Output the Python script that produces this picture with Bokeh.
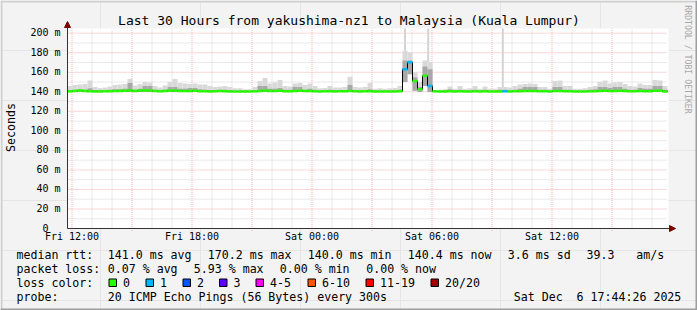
import numpy as np
from bokeh.plotting import figure
from bokeh.models import Range1d, Arrow, NormalHead
from bokeh.core.properties import value
from bokeh.embed import file_html
from bokeh.resources import INLINE

# ---------------- data (hours since Fri 12:00, milliseconds) ----------------
T_START = -0.225                 # left edge of the 30-hour window
BIN_H = 0.25                     # 15-minute bins

median_ms = [
    140.6, 140.8, 141.2, 140.8, 140.6, 140.4, 140.4, 140.5, 140.6, 140.8,
    140.9, 141.0, 141.4, 140.8, 141.2, 141.3, 141.2, 140.7, 140.6, 140.8,
    141.0, 141.2, 140.9, 140.8, 140.7, 141.0, 140.6, 140.5, 140.4, 140.6,
    140.7, 140.5, 140.4, 140.3, 140.3, 140.2, 140.3, 140.5, 140.8, 141.2,
    140.8, 140.9, 141.0, 140.6, 140.6, 140.8, 141.0, 140.7, 140.8, 140.5,
    140.4, 140.5, 140.6, 140.4, 140.5, 140.5, 140.9, 140.5, 140.4, 140.5,
    140.6, 140.3, 140.4, 140.3, 140.4, 140.4, 140.6, 163.0, 170.2, 151.0,
    142.5, 156.5, 146.0, 140.5, 140.3, 140.4, 140.5, 140.4, 140.6, 140.4,
    140.4, 140.5, 140.4, 140.5, 140.3, 140.3, 140.4, 140.5, 140.4, 140.5,
    140.6, 140.7, 140.9, 140.8, 140.5, 140.5, 140.3, 140.7, 140.9, 140.6,
    140.5, 140.3, 140.3, 140.4, 140.5, 140.6, 140.8, 141.0, 140.8, 140.9,
    141.0, 140.7, 140.5, 140.5, 140.8, 140.6, 140.6, 141.0, 141.1, 140.4,
]

loss_count = [0] * 120
for _i in (67, 68, 72, 87):
    loss_count[_i] = 1

smoke_max = [
    146.0, 147.0, 147.5, 148.0, 151.5, 145.0, 144.0, 144.5, 145.5, 147.0,
    147.5, 148.0, 153.0, 146.5, 148.0, 150.0, 149.5, 146.0, 144.5, 146.5,
    150.0, 153.0, 149.0, 148.5, 148.0, 148.5, 147.5, 147.5, 146.0, 145.0,
    145.5, 146.0, 145.0, 143.5, 143.5, 142.5, 142.5, 145.0, 151.0, 154.0,
    148.5, 149.5, 152.0, 146.0, 145.5, 148.5, 149.0, 147.0, 148.5, 146.0,
    143.5, 144.0, 146.0, 144.5, 144.5, 145.0, 155.5, 145.0, 144.5, 145.0,
    149.0, 143.0, 143.5, 143.0, 143.5, 144.0, 146.0, 182.0, 180.0, 160.0,
    150.0, 172.0, 170.0, 141.5, 142.0, 142.5, 145.5, 143.0, 146.0, 143.0,
    143.5, 146.0, 143.0, 145.5, 143.0, 143.0, 145.0, 145.0, 144.5, 146.0,
    147.5, 148.0, 148.5, 148.0, 145.0, 145.0, 143.0, 151.0, 151.5, 146.0,
    146.0, 143.0, 143.0, 143.5, 145.0, 146.0, 150.0, 151.5, 148.5, 149.5,
    150.0, 148.0, 146.0, 145.5, 148.5, 147.0, 147.0, 152.0, 151.5, 146.0,
]

smoke_mid = [
    141.5, 142.0, 142.5, 142.0, 143.5, 141.5, 141.5, 141.5, 142.0, 142.5,
    142.5, 143.0, 149.0, 142.0, 143.0, 146.0, 146.0, 142.0, 141.5, 142.0,
    145.0, 145.0, 143.0, 143.0, 144.0, 144.0, 142.5, 142.0, 141.5, 141.5,
    142.0, 142.0, 141.5, 141.0, 141.0, 141.0, 141.0, 141.5, 146.0, 146.0,
    143.0, 143.0, 144.0, 142.0, 142.0, 145.0, 145.0, 142.0, 143.0, 142.0,
    141.0, 141.0, 142.0, 141.5, 141.5, 141.5, 147.0, 141.5, 141.0, 141.5,
    142.5, 141.0, 141.0, 141.0, 141.0, 141.0, 142.0, 172.0, 172.0, 155.0,
    145.0, 166.0, 163.0, 141.0, 141.0, 141.0, 142.5, 141.0, 142.0, 141.0,
    141.0, 142.0, 141.0, 142.0, 141.0, 141.0, 142.0, 142.0, 141.5, 142.0,
    143.0, 145.0, 145.0, 145.0, 142.0, 142.0, 141.0, 145.0, 145.0, 142.0,
    142.0, 141.0, 141.0, 141.0, 142.0, 142.5, 145.0, 145.0, 144.0, 145.0,
    145.0, 143.0, 142.0, 142.0, 144.0, 143.0, 143.0, 146.0, 146.0, 142.0,
]

smoke_min = [139.8] * 120
for _i, _v in ((67, 150.0), (68, 158.0), (69, 141.0), (71, 146.0)):
    smoke_min[_i] = _v

outlier_t = [16.65, 17.81, 21.54]      # single pings far above the scale
outlier_ms = [230.0, 230.0, 230.0]

loss_labels = ["0", "1", "2", "3", "4-5", "6-10", "11-19", "20/20"]
loss_colors = ["#26ff00", "#00b8ff", "#0059ff", "#5e00ff", "#ff00ff",
               "#ff5500", "#ff0000", "#a10000"]

x_tick_hours = [0, 6, 12, 18, 24]
x_tick_labels = ["Fri 12:00", "Fri 18:00", "Sat 00:00", "Sat 06:00", "Sat 12:00"]
y_tick_vals = list(range(0, 201, 20))

title = "Last 30 Hours from yakushima-nz1 to Malaysia (Kuala Lumpur)"

# ---------------- layout constants (canvas pixels) ----------------
W, H = 697, 310
FL, FR, FT, FB = 67, 667, 28, 228
Y_MAX = 204.8
PXH = (FR - FL) / 30.0
PXM = (FB - FT) / Y_MAX
MONO = value("DejaVu Sans Mono")
DY = -4.0          # baseline correction for the SVG text renderer
NB = "\u00a0"      # keeps double spaces visible in SVG text

p = figure(width=W, height=H, x_range=Range1d(0, W), y_range=Range1d(H, 0),
           x_axis_location=None, y_axis_location=None,
           toolbar_location=None, output_backend="svg", min_border=0,
           background_fill_color="#f3f3f3", border_fill_color="#f3f3f3",
           outline_line_color=None)
p.extra_x_ranges = {"t": Range1d(T_START - FL / PXH, T_START + (W - FL) / PXH)}
p.extra_y_ranges = {"ms": Range1d((FB - H) / PXM, FB / PXM)}
D = dict(x_range_name="t", y_range_name="ms")

# plot canvas
p.quad(left=[FL], right=[FR + 1], top=[FT], bottom=[FB], fill_color="white", line_color=None)

# grid (minor grey, major red, dotted)
hours = list(range(0, 30))
xmin = [h for h in hours if h % 3]
xmaj = [h for h in hours if h % 3 == 0]
ymin = [v for v in range(10, 201, 10) if v % 20]
ymaj = list(range(20, 201, 20))
GRID_MINOR, GRID_MAJOR = "#d4d4d4", "#f0b0b0"
p.segment(x0=xmin, x1=xmin, y0=[0] * len(xmin), y1=[Y_MAX] * len(xmin),
          line_color=GRID_MINOR, line_dash="1 1", line_width=1, **D)
p.segment(x0=[T_START] * len(ymin), x1=[T_START + 30] * len(ymin), y0=ymin, y1=ymin,
          line_color=GRID_MINOR, line_dash="1 1", line_width=1, **D)
p.segment(x0=xmaj, x1=xmaj, y0=[-2.5] * len(xmaj), y1=[Y_MAX] * len(xmaj),
          line_color=GRID_MAJOR, line_dash="1 1", line_width=1, **D)
p.segment(x0=[T_START] * len(ymaj), x1=[T_START + 30] * len(ymaj), y0=ymaj, y1=ymaj,
          line_color=GRID_MAJOR, line_dash="1 1", line_width=1, **D)

# smoke
n = len(median_ms)
t0 = np.array([T_START + BIN_H * i for i in range(n)])
t1 = t0 + BIN_H
p.quad(left=t0, right=t1, bottom=smoke_min, top=smoke_max,
       fill_color="#d9d9d9", line_color=None, **D)
p.quad(left=t0, right=t1, bottom=smoke_min, top=smoke_mid,
       fill_color="#a8a8a8", line_color=None, **D)
out_bins = [int((t - T_START) / BIN_H) for t in outlier_t]
p.vbar(x=outlier_t, width=0.1, bottom=[smoke_max[b] for b in out_bins],
       top=[min(v, Y_MAX) for v in outlier_ms], fill_color="#d4d4d4", line_color=None, **D)

# median: black step line + loss-coloured segments
p.step(x=list(t0) + [t1[-1]], y=median_ms + [median_ms[-1]], mode="after",
       line_color="black", line_width=1, **D)
seg_colors = [loss_colors[min(c, 1)] for c in loss_count]
p.segment(x0=t0, y0=median_ms, x1=t1, y1=median_ms, line_color=seg_colors,
          line_width=2.5, **D)

# axes with arrows
for xs, ys, xe, ye in ((FL, FB, FL, 21), (FL, FB, 675, FB)):
    p.add_layout(Arrow(end=NormalHead(size=6, fill_color="#7f0000", line_color="#7f0000"),
                       x_start=xs, y_start=ys, x_end=xe, y_end=ye,
                       line_color="#333333", line_width=1))


def txt(texts, xs, ys, size="11.6px", align="left", baseline="alphabetic",
        color="black", angle=0.0, xr="default", yr="default", y_offset=0.0):
    if baseline == "alphabetic":
        y_offset += DY
    p.text(x=xs, y=ys, text=texts, text_font=MONO, text_font_size=value(size),
           text_align=align, text_baseline=baseline, text_color=color, angle=angle,
           x_range_name=xr, y_range_name=yr, y_offset=y_offset)


# title
txt([title], [348.5], [24.3], size="13px", align="center")

# y tick labels ("0" keeps the width of the unit suffix, as in rrdtool)
txt(["0" + NB + NB if v == 0 else f"{v} m" for v in y_tick_vals], [60] * len(y_tick_vals),
    y_tick_vals, size="10px", align="right", yr="ms", y_offset=3.5)

# x tick labels
txt(x_tick_labels, x_tick_hours, [240] * len(x_tick_hours), size="10px", align="center", xr="t")

# y axis title and watermark
txt(["Seconds"], [10], [127], size="11.6px", align="center", baseline="middle", angle=np.pi / 2)
txt(["RRDTOOL / TOBI OETIKER"], [687], [59], size="8.2px", align="center",
    baseline="middle", angle=-np.pi / 2, color="#a8a8a8")

# legend
L1, L2, L3, L4 = 258.3, 272.3, 286.3, 300.3
row1 = [("median rtt:", 16), ("141.0 ms avg", 107.3), ("170.2 ms max", 207.3),
        ("140.0 ms min", 307.3), ("140.4 ms now", 407.3), ("3.6 ms sd", 507.3),
        ("39.3", 586), ("am/s", 635.7)]
row2 = [("packet loss:", 16), ("0.07 % avg", 107.3), ("5.93 % max", 193.3),
        ("0.00 % min", 279.3), ("0.00 % now", 365.7)]
txt([a for a, _ in row1], [b for _, b in row1], [L1] * len(row1))
txt([a for a, _ in row2], [b for _, b in row2], [L2] * len(row2))
txt(["loss color:"], [16], [L3])
sw_x = [108.5, 145.5, 182.5, 219, 255.5, 307.5, 365.5, 430.5]
p.quad(left=sw_x, right=[x + 7.5 for x in sw_x], top=[278.5] * 8, bottom=[286] * 8,
       fill_color=loss_colors, line_color="black", line_width=1)
txt(loss_labels, [x + 14 for x in sw_x], [L3] * 8)
txt(["probe:", "20 ICMP Echo Pings (56 Bytes) every 300s", "Sat Dec " + NB + "6 17:44:26 2025"],
    [16, 107.3, 513.3], [L4] * 3)

# outer bevel
p.quad(left=[0, 0, 0, W - 2], right=[W, 2, W, W], top=[0, 0, H - 2, 0], bottom=[2, H, H, H],
       fill_color=["#cfcfcf", "#cfcfcf", "#9e9e9e", "#9e9e9e"], line_color=None)

open("out.html", "w").write(file_html(p, INLINE))
